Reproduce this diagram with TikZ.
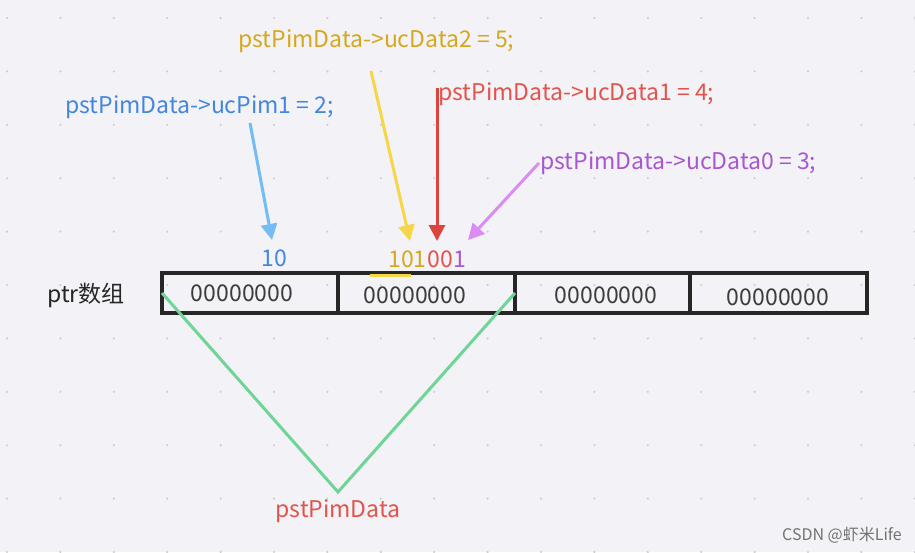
\documentclass[tikz,border=0pt]{standalone}
\usepackage{fontspec}
\setmainfont{Noto Sans CJK SC}
\usepackage{tikz}
\usetikzlibrary{arrows.meta}
\usepackage{xcolor}

\definecolor{bgcol}{RGB}{243,242,246}
\definecolor{gridcol}{RGB}{205,205,212}
\definecolor{bluetxt}{RGB}{66,135,222}
\definecolor{bluearr}{RGB}{116,188,245}
\definecolor{goldtxt}{RGB}{214,168,28}
\definecolor{goldarr}{RGB}{246,214,70}
\definecolor{redtxt}{RGB}{226,84,76}
\definecolor{redarr}{RGB}{222,68,62}
\definecolor{purptxt}{RGB}{168,86,210}
\definecolor{purparr}{RGB}{218,140,240}
\definecolor{greenln}{RGB}{112,212,150}
\definecolor{celltxt}{RGB}{60,60,60}

\tikzset{
  cell/.style={draw=black!85, line width=1.7pt},
  lbl/.style={font=\fontsize{11.5}{13}\selectfont},
  celltext/.style={lbl, text=celltxt},
  codetext/.style={lbl, anchor=west, inner sep=0pt},
  pointer/.style={line width=1.5pt, -{Triangle[length=8pt,width=8pt]}},
}

\begin{document}
\begin{tikzpicture}[x=0.5pt, y=-0.5pt]
\fill[bgcol] (0,0) rectangle (915,552);
\useasboundingbox (0,0) rectangle (915,552);

% dot grid
\foreach \i in {0,...,17}{
  \foreach \j in {0,...,10}{
    \fill[gridcol] (7+53.4*\i, 18+53.4*\j) circle (0.6pt);
  }
}

% memory cells
\draw[cell] (162,273) rectangle (338,313);
\draw[cell] (338,273) rectangle (515,313);
\draw[cell] (515,273) rectangle (690,313);
\draw[cell] (690,273) rectangle (867,313);

\node[celltext] (b0) at (242,293){00000000};
\node[celltext] (b1) at (415,295){00000000};
\node[celltext] (b2) at (606,295){00000000};
\node[celltext] (b3) at (778,297){00000000};

\node[lbl, text=black!85] (ptr) at (86,295){ptr数组};

% bit values
\node[lbl, text=bluetxt] (bits_pim) at (274,258){10};
\node[lbl, anchor=east, inner sep=0pt, text=goldtxt] (bits_d2) at (427,259){101};
\node[lbl, anchor=west, inner sep=0pt, text=redtxt] (bits_d1) at (bits_d2.east){00};
\node[lbl, anchor=west, inner sep=0pt, text=purptxt] (bits_d0) at (bits_d1.east){1};
\draw[goldarr, line width=1.5pt] (370,275)--(411,275);

% code labels
\node[codetext, text=goldtxt] (set_d2) at (238,41){pstPimData->ucData2 = 5;};
\node[codetext, text=redtxt] (set_d1) at (438,94){pstPimData->ucData1 = 4;};
\node[codetext, text=bluetxt] (set_pim) at (65,107){pstPimData->ucPim1 = 2;};
\node[codetext, text=purptxt] (set_d0) at (540,163){pstPimData->ucData0 = 3;};

% arrows
\coordinate (tip_pim) at (272,240);
\coordinate (tip_d2) at (410,241);
\coordinate (tip_d1) at (437,241);
\coordinate (tip_d0) at (468,240);
\draw[pointer, bluearr] (250,123)--(tip_pim);
\draw[pointer, goldarr] (371,71)--(tip_d2);
\draw[pointer, redarr] (437,88)--(tip_d1);
\draw[pointer, purparr] (539,163)--(tip_d0);

% base pointer
\coordinate (base) at (338,492);
\draw[greenln, line width=1.5pt] (162,293)--(base)--(515,293);
\node[lbl, text=redtxt] (base_l) at (338,511){pstPimData};

\node[text=black!55, font=\fontsize{8}{9}\selectfont] (mark) at (842,535){CSDN @虾米Life};
\end{tikzpicture}
\end{document}
